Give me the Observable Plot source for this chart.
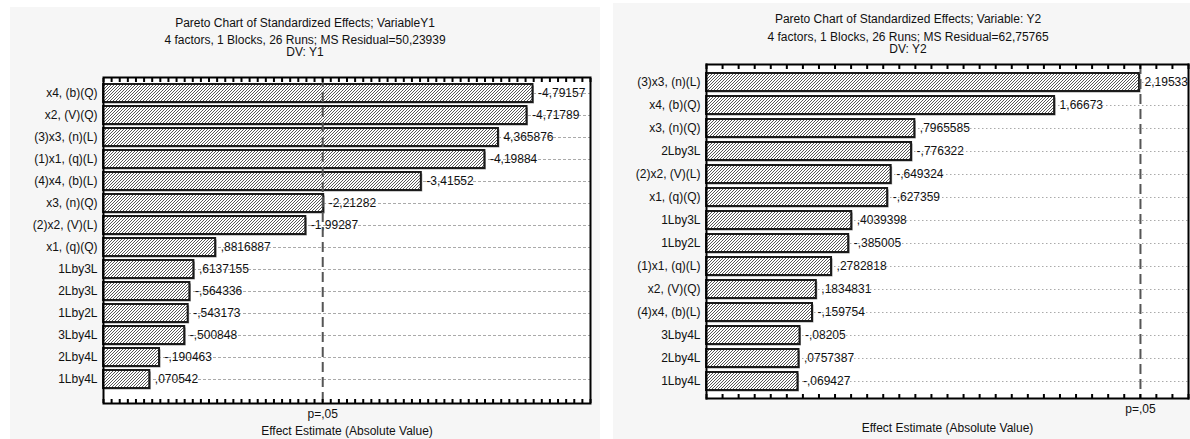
<!DOCTYPE html>
<html><head><meta charset="utf-8">
<script src="https://cdn.jsdelivr.net/npm/d3@7"></script>
<script src="https://cdn.jsdelivr.net/npm/@observablehq/plot@0.6"></script>
<style>
html,body{margin:0;padding:0;background:#fff;width:1190px;height:439px;overflow:hidden;font-family:Arial,"Liberation Sans",sans-serif;}
.panel{position:absolute;background:#f6f6f6;}
.t{position:absolute;left:0;width:100%;text-align:center;font-size:12px;color:#111;white-space:nowrap;line-height:13px;}
.panel svg{position:absolute;left:0;}
</style></head><body>
<div id="p1" class="panel" style="left:10px;top:7px;width:590px;height:432px"></div>
<div id="p2" class="panel" style="left:613px;top:3px;width:590px;height:436px"></div>
<script>
// ---- data ----
const factors1 = ["x4, (b)(Q)", "x2, (V)(Q)", "(3)x3, (n)(L)", "(1)x1, (q)(L)", "(4)x4, (b)(L)", "x3, (n)(Q)", "(2)x2, (V)(L)", "x1, (q)(Q)", "1Lby3L", "2Lby3L", "1Lby2L", "3Lby4L", "2Lby4L", "1Lby4L"];
const effects1 = [-4.79157, -4.71789, 4.365876, -4.19884, -3.41552, -2.21282, -1.99287, 0.8816887, 0.6137155, -0.564336, -0.543173, -0.500848, -0.190463, 0.070542];
const factors2 = ["(3)x3, (n)(L)", "x4, (b)(Q)", "x3, (n)(Q)", "2Lby3L", "(2)x2, (V)(L)", "x1, (q)(Q)", "1Lby3L", "1Lby2L", "(1)x1, (q)(L)", "x2, (V)(Q)", "(4)x4, (b)(L)", "3Lby4L", "2Lby4L", "1Lby4L"];
const effects2 = [2.19533, 1.66673, 0.7965585, -0.776322, -0.649324, -0.627359, 0.4039398, -0.385005, 0.2782818, 0.1834831, -0.159754, -0.08205, 0.0757387, -0.069427];
const titles1 = ["Pareto Chart of Standardized Effects; VariableY1", "4 factors, 1 Blocks, 26 Runs; MS Residual=50,23939", "DV: Y1"];
const titles2 = ["Pareto Chart of Standardized Effects; Variable:  Y2", "4 factors, 1 Blocks, 26 Runs; MS Residual=62,75765", "DV: Y2"];
const xLabel = "Effect Estimate (Absolute Value)";
const pLabel = "p=,05";
const tCrit = 2.201;
const xDomain1 = [-0.5, 5.5];
const xDomain2 = [-0.5, 2.5];

// ---- helpers ----
const fmt = v => String(v).replace(/^(-?)0\./, "$1.").replace(".", ",");
const hatchDefs = id => () => {
  const g = d3.create("svg:g");
  const p = g.append("defs").append("pattern").attr("id", id)
    .attr("patternUnits", "userSpaceOnUse").attr("width", 3).attr("height", 3);
  p.append("rect").attr("width", 3).attr("height", 3).attr("fill", "#fff");
  p.append("path").attr("d", "M-0.75,0.75 l1.5,-1.5 M0,3 l3,-3 M2.25,3.75 l1.5,-1.5")
    .attr("stroke", "#3a3a3a").attr("stroke-width", 0.85);
  return g.node();
};

function addTitles(panel, lines, tops) {
  lines.forEach((s, i) => {
    const d = document.createElement("div");
    d.className = "t"; d.style.top = tops[i] + "px"; d.textContent = s;
    panel.appendChild(d);
  });
}

function chart({factors, effects, domain, id, width, height, margins, yOpts, gridDash, gridColor, rightDotted}) {
  const data = factors.map((f, i) => ({f, v: effects[i], a: Math.abs(effects[i])}));
  const tickVals = d3.range(Math.round(domain[0] * 10), Math.round(domain[1] * 10) + 1).map(i => i / 10);
  const marks = [
    hatchDefs(id),
    Plot.frame({fill: "#fff"}),
    Plot.ruleY(factors, {y: d => d, stroke: gridColor, strokeWidth: 1, strokeDasharray: gridDash}),
    Plot.barX(data, {y: "f", x1: domain[0], x2: "a", fill: "#9a9a9a", dx: 1.5, dy: 1.5}),
    Plot.barX(data, {y: "f", x1: domain[0], x2: "a", fill: `url(#${id})`, stroke: "#1a1a1a", strokeWidth: 2}),
    Plot.text(data, {y: "f", x: "a", text: d => fmt(d.v), textAnchor: "start", dx: 5, fontSize: 12, fill: "#111"}),
    Plot.ruleX([tCrit], {x: d => d, stroke: "#555", strokeWidth: 2, strokeDasharray: "10,5"}),
    Plot.text([pLabel], {x: tCrit, frameAnchor: "bottom", dy: 14, fontSize: 12, fill: "#111", text: d => d}),
    Plot.text([xLabel], {frameAnchor: "bottom", dy: margins.title, fontSize: 12, fill: "#111", text: d => d}),
    Plot.axisX({anchor: "top", ticks: tickVals, tickSize: -4, tickFormat: () => "", label: null, stroke: "#000", strokeWidth: 2}),
    Plot.axisX({anchor: "bottom", ticks: tickVals, tickSize: -4, tickFormat: () => "", label: null, stroke: "#000", strokeWidth: 2}),
    Plot.axisY({tickSize: 0, tickPadding: 6, fontSize: 12, label: null, fill: "#111"})
  ];
  if (rightDotted) {
    marks.push(Plot.frame({anchor: "top", stroke: "#000", strokeWidth: 2}));
    marks.push(Plot.frame({anchor: "bottom", stroke: "#000", strokeWidth: 2}));
    marks.push(Plot.frame({anchor: "left", stroke: "#000", strokeWidth: 2}));
    marks.push(Plot.frame({anchor: "right", stroke: "#000", strokeWidth: 2, strokeDasharray: "1.5,1.5"}));
  } else {
    marks.push(Plot.frame({stroke: "#000", strokeWidth: 2}));
  }
  return Plot.plot({
    width, height,
    marginTop: margins.top, marginBottom: margins.bottom, marginLeft: margins.left, marginRight: margins.right,
    style: {background: "transparent", fontFamily: "Arial, 'Liberation Sans', sans-serif", fontSize: "12px", color: "#111"},
    x: {domain},
    y: {domain: factors, ...yOpts},
    marks
  });
}

const p1 = document.getElementById("p1");
const p2 = document.getElementById("p2");
addTitles(p1, titles1, [10, 27, 39]);
addTitles(p2, titles2, [10, 28, 40]);

const svg1 = chart({factors: factors1, effects: effects1, domain: xDomain1, id: "hatchA", width: 590, height: 379,
  margins: {top: 17, bottom: 36, left: 93, right: 10, title: 31},
  yOpts: {paddingInner: 0.2, paddingOuter: 0.04, insetBottom: 8},
  gridDash: "3,2", gridColor: "#aaa", rightDotted: false});
svg1.style.top = "53px";
p1.appendChild(svg1);

const svg2 = chart({factors: factors2, effects: effects2, domain: xDomain2, id: "hatchB", width: 590, height: 389,
  margins: {top: 14, bottom: 41, left: 93, right: 15, title: 33},
  yOpts: {paddingInner: 0.2, paddingOuter: 0.3, insetTop: 2},
  gridDash: "1.5,2.5", gridColor: "#aaa", rightDotted: true});
svg2.style.top = "47px";
p2.appendChild(svg2);
</script>
</body></html>
